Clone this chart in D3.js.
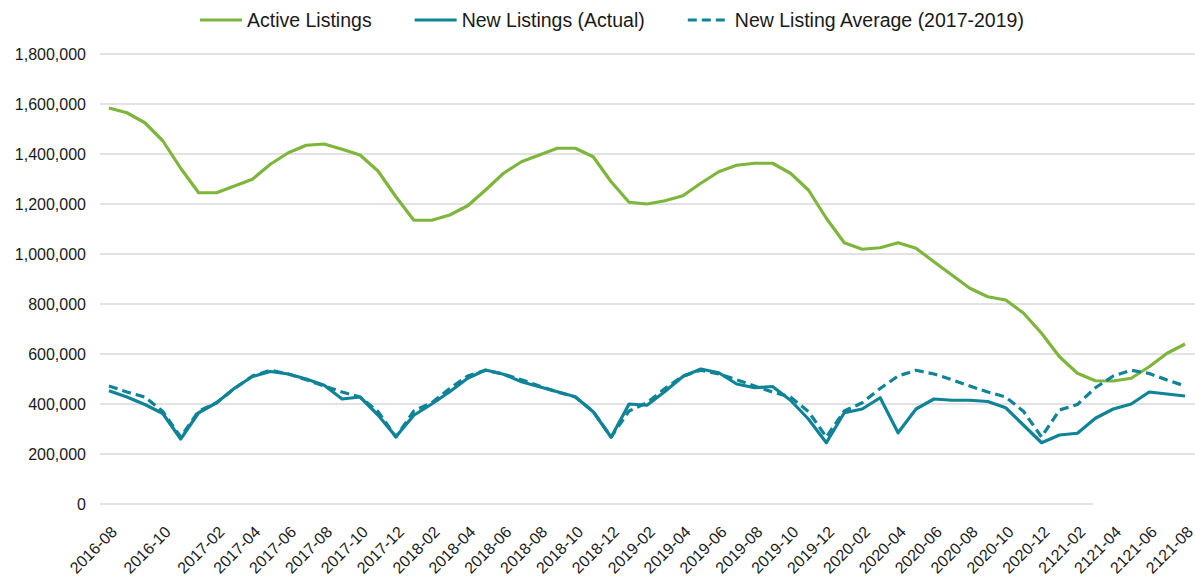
<!DOCTYPE html>
<html>
<head>
<meta charset="utf-8">
<script src="https://cdn.jsdelivr.net/npm/d3@7"></script>
<style>
  body { margin: 0; background: #fff; }
  text { font-family: "Liberation Sans", Arial, sans-serif; fill: #1a1a1a; }
</style>
</head>
<body>
<script>
// monthly categories, 2016-08 .. 2021-08
var months = [];
for (var y = 2016; y <= 2021; y++) {
  for (var m = 1; m <= 12; m++) {
    if ((y == 2016 && m < 8) || (y == 2021 && m > 8)) continue;
    months.push(y + "-" + (m < 10 ? "0" + m : m));
  }
}

var activeListings = [
  1584000, 1565000, 1525000, 1453000, 1343000, 1245000, 1245000, 1272000, 1299000, 1359000, 1405000, 1435000,
  1440000, 1419000, 1396000, 1332000, 1229000, 1135000, 1135000, 1156000, 1193000, 1256000, 1323000, 1369000,
  1396000, 1423000, 1423000, 1389000, 1289000, 1207000, 1200000, 1213000, 1233000, 1283000, 1329000, 1355000,
  1363000, 1363000, 1323000, 1256000, 1143000, 1045000, 1019000, 1025000, 1045000, 1023000, 969000, 916000,
  863000, 829000, 816000, 763000, 683000, 589000, 523000, 493000, 492000, 503000, 549000, 603000,
  640000
];

var newListings = [
  453000, 428000, 398000, 362000, 260000, 365000, 405000, 463000, 510000, 530000, 520000, 500000,
  475000, 420000, 428000, 356000, 269000, 355000, 400000, 449000, 503000, 536000, 519000, 489000,
  469000, 449000, 429000, 369000, 267000, 400000, 395000, 450000, 510000, 540000, 525000, 480000,
  465000, 470000, 415000, 340000, 245000, 365000, 380000, 425000, 285000, 380000, 420000, 415000,
  415000, 410000, 385000, 315000, 245000, 276000, 283000, 343000, 380000, 400000, 448000, 440000,
  432000
];

var newListingAvg = [
  472000, 448000, 428000, 370000, 268000, 372000, 405000, 462000, 512000, 535000, 520000, 497000,
  472000, 448000, 428000, 370000, 268000, 372000, 405000, 462000, 512000, 535000, 520000, 497000,
  472000, 448000, 428000, 370000, 268000, 372000, 405000, 462000, 512000, 535000, 520000, 497000,
  472000, 448000, 428000, 370000, 268000, 372000, 405000, 462000, 512000, 535000, 520000, 497000,
  472000, 448000, 428000, 370000, 268000, 376000, 398000, 465000, 512000, 535000, 522000, 496000,
  472000
];

// tick labels as printed on the chart, and the category each one sits under
var tickLabels = ["2016-08", "2016-10", "2017-02", "2017-04", "2017-06", "2017-08", "2017-10", "2017-12",
  "2018-02", "2018-04", "2018-06", "2018-08", "2018-10", "2018-12", "2019-02", "2019-04", "2019-06",
  "2019-08", "2019-10", "2019-12", "2020-02", "2020-04", "2020-06", "2020-08", "2020-10", "2020-12",
  "2121-02", "2121-04", "2121-06", "2121-08"];
var tickIndex = [0, 3, 6, 8, 10, 12, 14, 16, 18, 20, 22, 24, 26, 28, 30, 32, 34, 36, 38, 40, 42, 44, 46,
  48, 50, 52, 54, 56, 58, 60];

var yTicks = [0, 200000, 400000, 600000, 800000, 1000000, 1200000, 1400000, 1600000, 1800000];

var series = [
  { name: "Active Listings", values: activeListings, color: "#7db63b", dash: null },
  { name: "New Listings (Actual)", values: newListings, color: "#0f8397", dash: null },
  { name: "New Listing Average (2017-2019)", values: newListingAvg, color: "#0f8397", dash: "9,5" }
];

var width = 1195, height = 582;

var svg = d3.select("body").append("svg")
  .attr("width", width)
  .attr("height", height);

var x = d3.scalePoint()
  .domain(months)
  .range([100, 1194])
  .padding(0.5);

var y = d3.scaleLinear()
  .domain([0, 1800000])
  .range([504, 54]);

// gridlines
svg.append("g")
  .selectAll("line")
  .data(yTicks)
  .enter().append("line")
    .attr("x1", 100)
    .attr("x2", width)
    .attr("y1", function(d) { return y(d); })
    .attr("y2", function(d) { return y(d); })
    .style("stroke", "#d9d9d9")
    .style("stroke-width", 1.4);

// y labels
svg.append("g")
  .selectAll("text")
  .data(yTicks)
  .enter().append("text")
    .attr("x", 86)
    .attr("y", function(d) { return y(d); })
    .attr("dy", "0.35em")
    .attr("text-anchor", "end")
    .style("font-size", "16px")
    .text(function(d) { return d3.format(",")(d); });

// lines
var line = d3.line()
  .x(function(d, i) { return x(months[i]); })
  .y(function(d) { return y(d); });

svg.append("g")
  .selectAll("path")
  .data(series)
  .enter().append("path")
    .attr("d", function(d) { return line(d.values); })
    .style("fill", "none")
    .style("stroke", function(d) { return d.color; })
    .style("stroke-width", 3.2)
    .style("stroke-linejoin", "round")
    .style("stroke-dasharray", function(d) { return d.dash; });

// the box with the hand typed labels covers the end of the base line
svg.append("rect")
  .attr("x", 1093)
  .attr("y", 500)
  .attr("width", width - 1093)
  .attr("height", 8)
  .style("fill", "#fff");

// x labels
svg.append("g")
  .selectAll("text")
  .data(tickLabels)
  .enter().append("text")
    .attr("transform", function(d, i) {
      return "translate(" + (x(months[tickIndex[i]]) + 9) + ",533)rotate(-45)";
    })
    .attr("text-anchor", "end")
    .style("font-size", "16px")
    .text(function(d) { return d; });

// legend
var legend = svg.append("g");
var lx = 200;
series.forEach(function(s) {
  legend.append("line")
    .attr("x1", lx)
    .attr("x2", lx + 42)
    .attr("y1", 20)
    .attr("y2", 20)
    .style("stroke", s.color)
    .style("stroke-width", 3.2)
    .style("stroke-dasharray", s.dash ? "9,5" : null);
  var t = legend.append("text")
    .attr("x", lx + 47)
    .attr("y", 20)
    .attr("dy", "0.35em")
    .style("font-size", "19.5px")
    .text(s.name);
  lx += 47 + t.node().getComputedTextLength() + 43;
});
</script>
</body>
</html>
